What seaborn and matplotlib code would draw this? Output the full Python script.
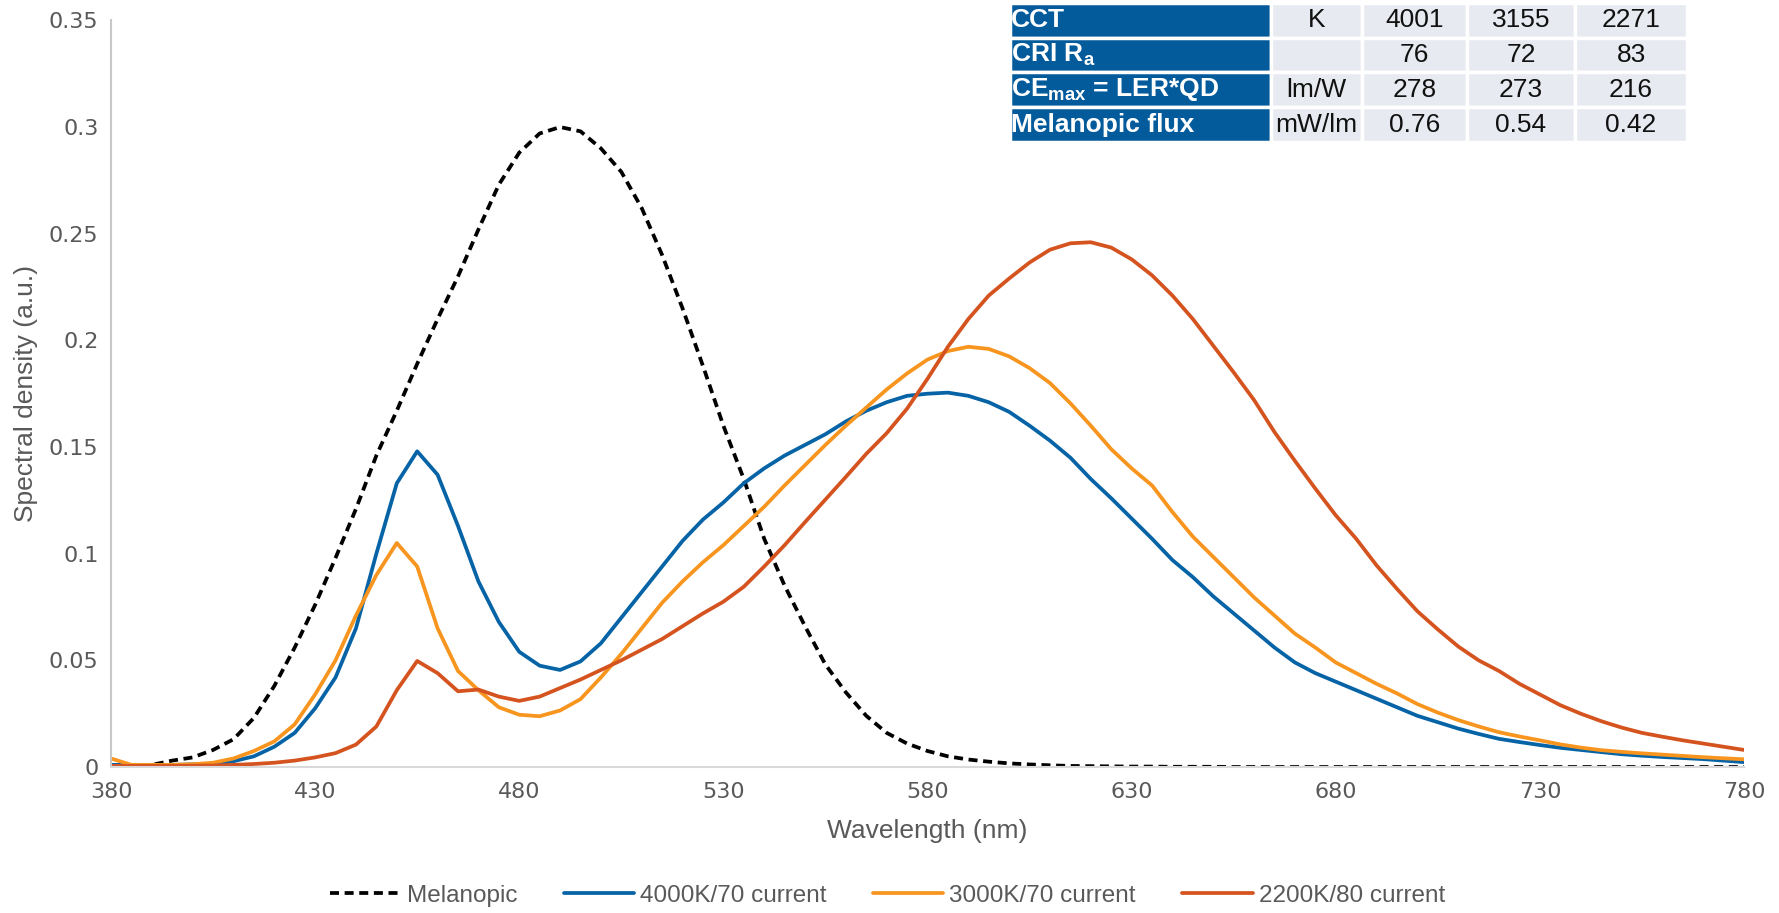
import numpy as np
import pandas as pd
import matplotlib
matplotlib.use("Agg")
import matplotlib.pyplot as plt
import seaborn as sns

# ---------------- data ----------------
wavelength = list(range(380, 785, 5))

melanopic = [0.000, 0.0005, 0.001, 0.003, 0.0045, 0.008, 0.013, 0.023, 0.038, 0.056,
             0.076, 0.098, 0.121, 0.146, 0.167, 0.189, 0.210, 0.230, 0.252, 0.273,
             0.288, 0.297, 0.300, 0.298, 0.290, 0.279, 0.262, 0.240, 0.215, 0.188,
             0.160, 0.135, 0.107, 0.085, 0.066, 0.048, 0.035, 0.024, 0.016, 0.011,
             0.0075, 0.005, 0.0035, 0.0025, 0.0017, 0.0012, 0.0008, 0.0005, 0.0004, 0.0003,
             0.0002, 0.0002, 0.0001, 0.0001, 0.0001, 0.0, 0.0, 0.0, 0.0, 0.0,
             0.0, 0.0, 0.0, 0.0, 0.0, 0.0, 0.0, 0.0, 0.0, 0.0,
             0.0, 0.0, 0.0, 0.0, 0.0, 0.0, 0.0, 0.0, 0.0, 0.0, 0.0]

led_4000k = [0.001, 0.001, 0.001, 0.001, 0.0012, 0.0015, 0.0027, 0.005, 0.0095, 0.016,
             0.0275, 0.042, 0.065, 0.100, 0.133, 0.148, 0.137, 0.113, 0.087, 0.068,
             0.054, 0.0475, 0.0455, 0.0495, 0.058, 0.070, 0.082, 0.094, 0.106, 0.116,
             0.124, 0.133, 0.140, 0.146, 0.151, 0.156, 0.162, 0.167, 0.171, 0.174,
             0.175, 0.1755, 0.174, 0.171, 0.1665, 0.160, 0.153, 0.145, 0.135, 0.126,
             0.1165, 0.107, 0.097, 0.089, 0.080, 0.072, 0.064, 0.056, 0.049, 0.044,
             0.040, 0.036, 0.032, 0.028, 0.024, 0.021, 0.018, 0.0155, 0.0132, 0.0117,
             0.0103, 0.009, 0.008, 0.007, 0.006, 0.0053, 0.0047, 0.0042, 0.0037, 0.003, 0.0023]

led_3000k = [0.004, 0.001, 0.001, 0.001, 0.0013, 0.002, 0.004, 0.0075, 0.012, 0.020,
             0.034, 0.050, 0.071, 0.090, 0.105, 0.094, 0.065, 0.045, 0.036, 0.028,
             0.0245, 0.0238, 0.0265, 0.0318, 0.042, 0.053, 0.065, 0.077, 0.087, 0.096,
             0.104, 0.113, 0.122, 0.132, 0.1415, 0.151, 0.160, 0.1685, 0.177, 0.1845,
             0.191, 0.195, 0.197, 0.196, 0.1925, 0.187, 0.180, 0.1705, 0.160, 0.149,
             0.140, 0.132, 0.1195, 0.108, 0.0985, 0.089, 0.0795, 0.071, 0.0625, 0.056,
             0.049, 0.044, 0.039, 0.0345, 0.0295, 0.0255, 0.022, 0.019, 0.0163, 0.0143,
             0.0125, 0.0106, 0.0091, 0.0079, 0.0071, 0.0064, 0.0058, 0.0052, 0.0046, 0.0041, 0.0036]

led_2200k = [0.0005, 0.0005, 0.0005, 0.0005, 0.0006, 0.0007, 0.001, 0.0014, 0.002, 0.003,
             0.0045, 0.0065, 0.0105, 0.019, 0.036, 0.0497, 0.044, 0.0355, 0.0363, 0.033,
             0.031, 0.033, 0.037, 0.041, 0.0455, 0.050, 0.055, 0.060, 0.066, 0.072,
             0.0775, 0.0845, 0.094, 0.104, 0.1148, 0.1254, 0.136, 0.1468, 0.1565, 0.168,
             0.182, 0.197, 0.210, 0.221, 0.229, 0.2365, 0.2425, 0.2455, 0.246, 0.2435,
             0.238, 0.2305, 0.221, 0.210, 0.1975, 0.185, 0.172, 0.157, 0.1435, 0.1305,
             0.118, 0.107, 0.0945, 0.0835, 0.073, 0.0645, 0.0565, 0.050, 0.045, 0.039,
             0.034, 0.029, 0.025, 0.0215, 0.0185, 0.016, 0.0142, 0.0125, 0.011, 0.0095, 0.008]

series_names = ["Melanopic", "4000K/70 current", "3000K/70 current", "2200K/80 current"]
series_values = [melanopic, led_4000k, led_3000k, led_2200k]

x_ticks = list(range(380, 781, 50))
y_ticks = [0, 0.05, 0.1, 0.15, 0.2, 0.25, 0.3, 0.35]

table_rows = ["CCT", "CRI R$_\\mathbf{a}$", "CE$_\\mathbf{max}$ = LER*QD", "Melanopic flux"]
table_units = ["K", "", "lm/W", "mW/lm"]
table_values = [["4001", "3155", "2271"],
                ["76", "72", "83"],
                ["278", "273", "216"],
                ["0.76", "0.54", "0.42"]]

# ---------------- style ----------------
sns.set_theme(style="white")
plt.rcParams["font.family"] = ["DejaVu Sans"]
plt.rcParams["mathtext.fontset"] = "custom"
plt.rcParams["mathtext.rm"] = "Liberation Sans"
plt.rcParams["mathtext.bf"] = "Liberation Sans:bold"

colors = ["#000000", "#0563A6", "#F7951F", "#D4531F"]
styles = [(0, (2.4, 1.5)), "-", "-", "-"]

W, H = 1779, 913
fig = plt.figure(figsize=(W / 100, H / 100), dpi=100)
ax = fig.add_axes([111 / W, 1 - 767 / H, (1744 - 111) / W, (767 - 20.4) / H])

frames = []
for name, vals in zip(series_names, series_values):
    frames.append(pd.DataFrame({"Wavelength": wavelength, "value": vals, "series": name}))
df = pd.concat(frames, ignore_index=True)

for name, col, ls in zip(series_names, colors, styles):
    sub = df[df["series"] == name]
    sns.lineplot(data=sub, x="Wavelength", y="value", ax=ax, color=col,
                 linestyle=ls, linewidth=2.7, label=name, legend=False)

ax.set_xlim(380, 780)
ax.set_ylim(0, 0.35)
ax.set_xticks(x_ticks)
ax.set_yticks(y_ticks)
ax.set_yticklabels(["{:g}".format(v) for v in y_ticks])
ax.tick_params(axis="both", length=0, labelsize=16, colors="#595959")
ax.tick_params(axis="y", pad=9)
ax.tick_params(axis="x", pad=11)
for s in ["top", "right"]:
    ax.spines[s].set_visible(False)
ax.spines["left"].set_color("#C8C8C8")
ax.spines["left"].set_linewidth(1.5)
ax.spines["bottom"].set_color("#D9D9D9")
ax.spines["bottom"].set_linewidth(1.5)
ax.grid(False)

txtfam = ["Liberation Sans", "DejaVu Sans"]
ax.set_xlabel("Wavelength (nm)", fontsize=19, color="#595959", family=txtfam, labelpad=12)
ax.set_ylabel("Spectral density (a.u.)", fontsize=19, color="#595959", family=txtfam, labelpad=8)

handles = ax.get_lines()[:4]
leg = fig.legend(handles, series_names, loc="lower center", bbox_to_anchor=(0.499, -0.017),
                 ncol=4, frameon=False, handlelength=2.9, columnspacing=1.9,
                 handletextpad=0.25, prop={"family": txtfam, "size": 17.5})
for t in leg.get_texts():
    t.set_color("#595959")

# ---------------- table ----------------
tx0, tx1, ty0, ty1 = 1010, 1687, 3, 142
tax = fig.add_axes([tx0 / W, 1 - ty1 / H, (tx1 - tx0) / W, (ty1 - ty0) / H])
tax.axis("off")
cell_text = [[r, u] + v for r, u, v in zip(table_rows, table_units, table_values)]
colw = np.array([261, 91, 105, 108, 112], dtype=float)
tbl = tax.table(cellText=cell_text, bbox=[0, 0, 1, 1], colWidths=list(colw / colw.sum()),
                cellLoc="center")
tbl.auto_set_font_size(False)
for (r, c), cell in tbl.get_celld().items():
    cell.set_edgecolor("white")
    cell.set_linewidth(2.5)
    txt = cell.get_text()
    txt.set_fontfamily(txtfam)
    txt.set_fontsize(19)
    if c == 0:
        cell.set_facecolor("#045B9C")
        txt.set_color("white")
        txt.set_fontweight("bold")
        txt.set_ha("left")
        cell.PAD = 0.005
        cell._loc = "left"
    else:
        cell.set_facecolor("#E8EAF1")
        txt.set_color("#111111")

fig.savefig("out.png", dpi=100)
